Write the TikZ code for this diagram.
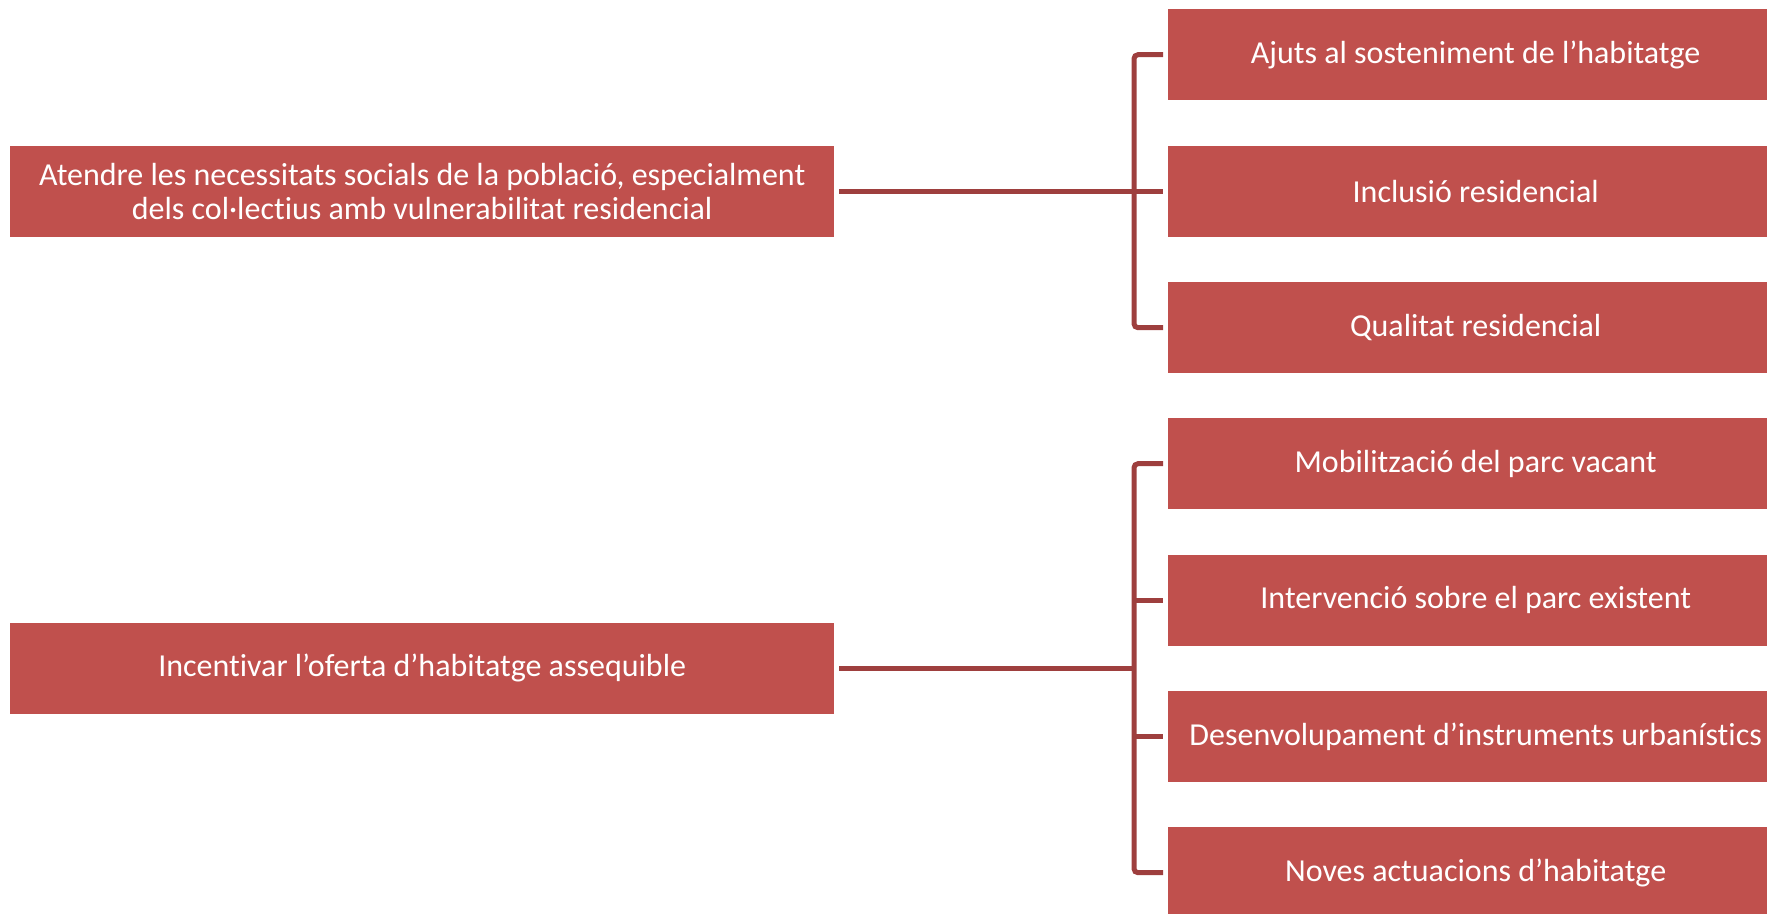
\documentclass[tikz,border=0pt]{standalone}
\usepackage{fontspec}
\setmainfont{Carlito}[RawFeature={-liga;-dlig}]
\definecolor{boxred}{HTML}{C0504D}
\definecolor{linered}{HTML}{9E3F3E}
\newcommand{\boxtextsetup}{\centering\spaceskip=7.2pt plus 2pt minus 1pt\relax}
\begin{document}
\begin{tikzpicture}[x=1pt,y=-1pt,
  bx/.style={rectangle, fill=boxred, draw=none, inner sep=0pt, anchor=north west,
    text=white, font=\fontsize{32}{34}\selectfont, execute at begin node=\boxtextsetup},
  lbox/.style={bx, minimum width=824pt, minimum height=91.5pt, text width=800pt},
  rbox/.style={bx, minimum width=615pt, minimum height=91pt, text width=610pt},
  conn/.style={draw=linered, line width=5pt, rounded corners=4pt}]
\useasboundingbox (0,0) rectangle (1767,913);
\clip (0,0) rectangle (1767,913);
\node[lbox] (L1) at (10,145.5) {Atendre les necessitats socials de la població, especialment\\dels col·lectius amb vulnerabilitat residencial};
\node[lbox] (L2) at (10,622.5) {Incentivar l’oferta d’habitatge assequible};
\node[rbox] (R1) at (1168,9) {Ajuts al sosteniment de l’habitatge};
\node[rbox] (R2) at (1168,145.5) {Inclusió residencial};
\node[rbox] (R3) at (1168,282) {Qualitat residencial};
\node[rbox] (R4) at (1168,418) {Mobilització del parc vacant};
\node[rbox] (R5) at (1168,554.5) {Intervenció sobre el parc existent};
\node[rbox] (R6) at (1168,691) {Desenvolupament d’instruments urbanístics};
\node[rbox] (R7) at (1168,827) {Noves actuacions d’habitatge};
\coordinate (bx) at (1134,0);
\coordinate (b1) at (L1.east -| bx);
\coordinate (b2) at (L2.east -| bx);
% group 1
\draw[conn, shorten <=5pt] (L1.east) -- (b1);
\draw[conn] ([xshift=-5pt]R1.west) -| (b1) |- ([xshift=-5pt]R3.west);
\draw[conn] (b1) -- ([xshift=-5pt]R2.west |- b1);
% group 2
\draw[conn, shorten <=5pt] (L2.east) -- (b2);
\draw[conn] ([xshift=-5pt]R4.west) -| (b2) |- ([xshift=-5pt]R7.west);
\draw[conn] (R5.west -| b2) -- ([xshift=-5pt]R5.west);
\draw[conn] (R6.west -| b2) -- ([xshift=-5pt]R6.west);
\end{tikzpicture}
\end{document}
